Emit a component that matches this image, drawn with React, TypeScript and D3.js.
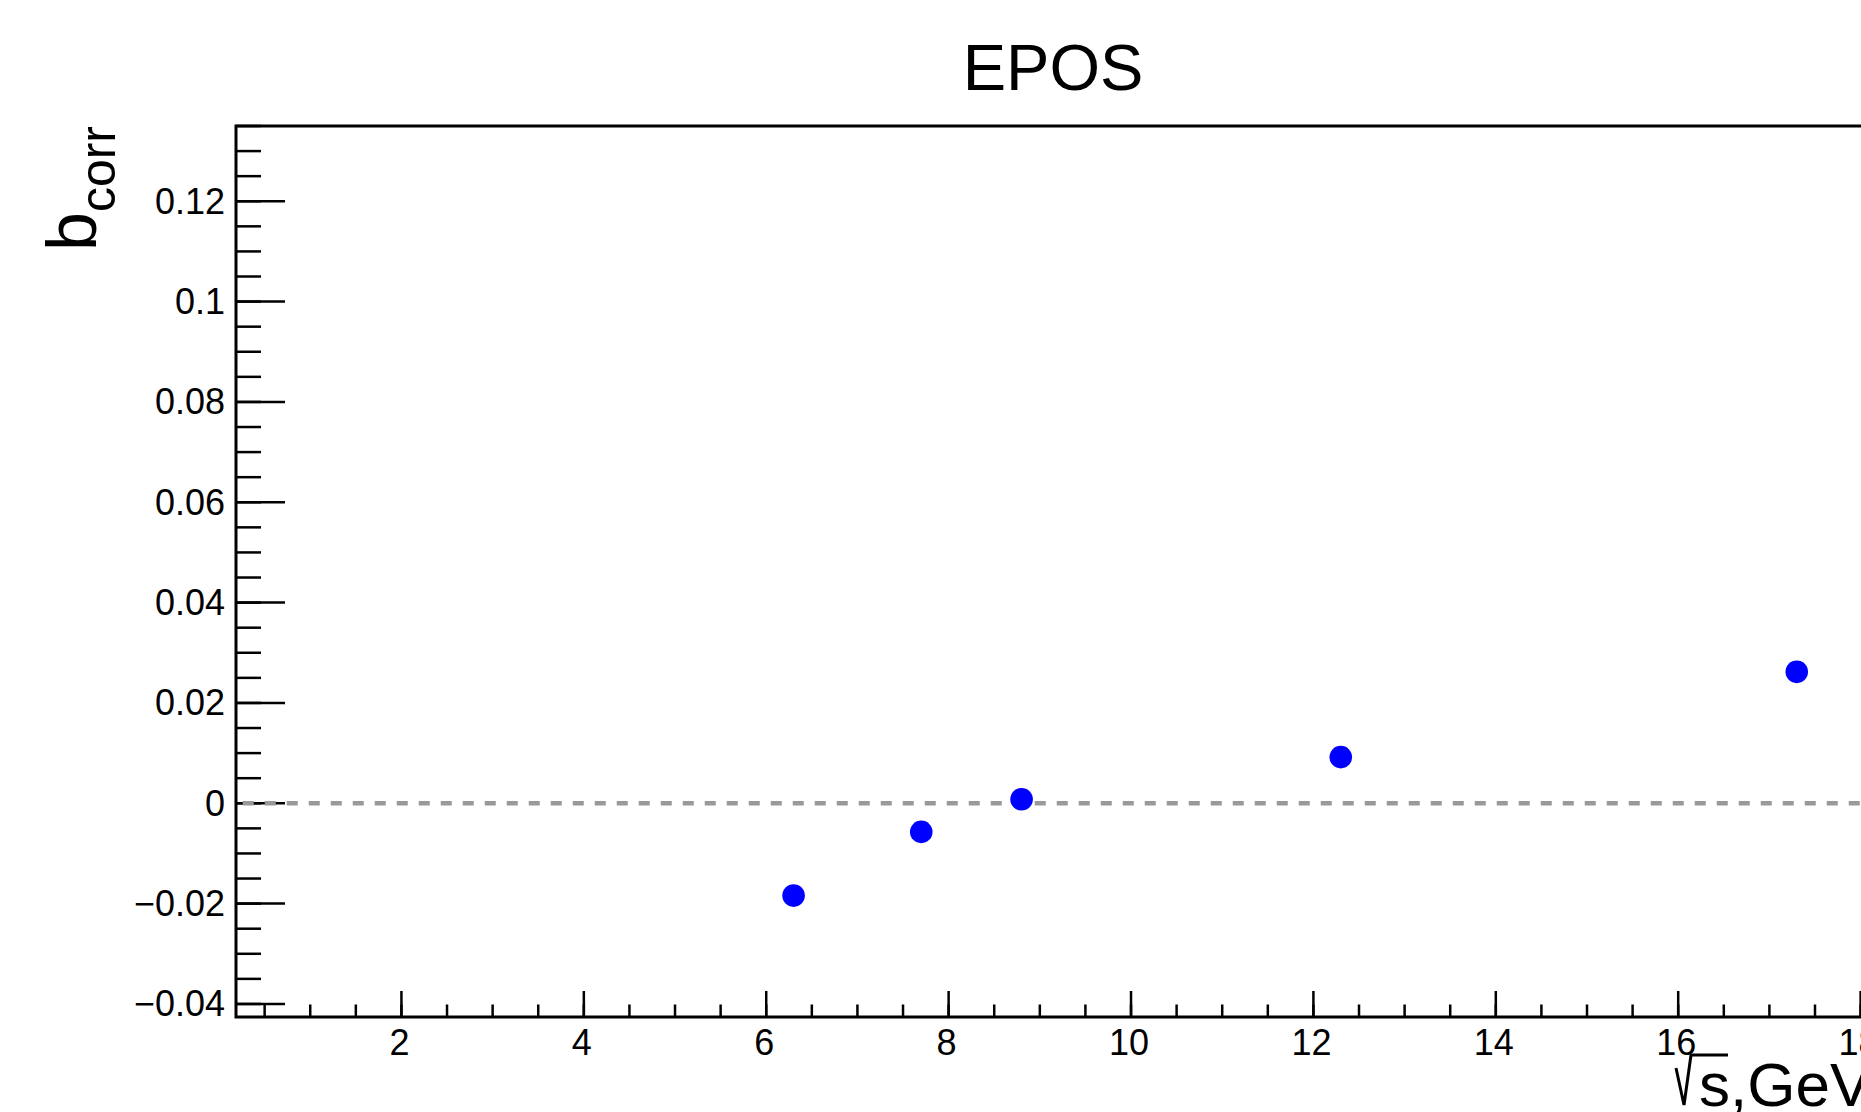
import React, { useEffect, useRef } from "react";
import * as d3 from "d3";

// collision energies (GeV) and b_corr values
const energies = [6.3, 7.7, 8.8, 12.3, 17.3];
const bcorr = [-0.0184, -0.0057, 0.0008, 0.0092, 0.0262];

const xMajorTicks = [2, 4, 6, 8, 10, 12, 14, 16, 18];
const yMajorTicks = [-0.04, -0.02, 0, 0.02, 0.04, 0.06, 0.08, 0.1, 0.12];

const chartTitle = "EPOS";
const zeroLineStart = 0.26;

const W = 1861;
const H = 1112;
const FONT = "'Liberation Sans', Arial, Helvetica, sans-serif";

const App = () => {
  const ref = useRef<SVGSVGElement | null>(null);

  useEffect(() => {
    drawChart();
  }, []);

  const drawChart = () => {
    const svg = d3.select(ref.current);
    svg.selectAll("*").remove();

    const x = d3.scaleLinear().domain([0.186, 18]).range([236, 1860.6]);
    const y = d3.scaleLinear().domain([-0.0426, 0.135]).range([1017, 126]);

    const left = x(0.186);
    const right = x(21); // frame runs past the canvas edge
    const top = y(0.135);
    const bottom = y(-0.0426);

    // title
    svg
      .append("text")
      .attr("x", 1053)
      .attr("y", 90)
      .attr("text-anchor", "middle")
      .style("font-family", FONT)
      .style("font-size", "65px")
      .text(chartTitle);

    // minor ticks, y every 0.005, x every 0.5
    const yMinor = d3.range(-0.04, 0.1351, 0.005).filter((v) => v <= 0.135);
    svg
      .append("g")
      .selectAll("line")
      .data(yMinor)
      .enter()
      .append("line")
      .attr("x1", left)
      .attr("x2", left + 25)
      .attr("y1", (d) => y(d))
      .attr("y2", (d) => y(d))
      .attr("stroke", "#000")
      .attr("stroke-width", 2.5);

    svg
      .append("g")
      .selectAll("line")
      .data(yMajorTicks)
      .enter()
      .append("line")
      .attr("x1", left)
      .attr("x2", left + 49)
      .attr("y1", (d) => y(d))
      .attr("y2", (d) => y(d))
      .attr("stroke", "#000")
      .attr("stroke-width", 2.5);

    const xMinor = d3.range(0.5, 18.01, 0.5);
    svg
      .append("g")
      .selectAll("line")
      .data(xMinor)
      .enter()
      .append("line")
      .attr("x1", (d) => x(d))
      .attr("x2", (d) => x(d))
      .attr("y1", bottom)
      .attr("y2", bottom - 12.5)
      .attr("stroke", "#000")
      .attr("stroke-width", 2.5);

    svg
      .append("g")
      .selectAll("line")
      .data(xMajorTicks)
      .enter()
      .append("line")
      .attr("x1", (d) => x(d))
      .attr("x2", (d) => x(d))
      .attr("y1", bottom)
      .attr("y2", bottom - 26)
      .attr("stroke", "#000")
      .attr("stroke-width", 2.5);

    // frame
    svg
      .append("path")
      .attr("d", `M${right},${top}H${left}V${bottom}H${right}`)
      .attr("fill", "none")
      .attr("stroke", "#000")
      .attr("stroke-width", 3);

    // tick labels
    const fmtY = (v: number) => {
      const s = v === 0 ? "0" : d3.format("~g")(Math.abs(v));
      return v < 0 ? "\u2212" + s : s;
    };
    svg
      .append("g")
      .selectAll("text")
      .data(yMajorTicks)
      .enter()
      .append("text")
      .attr("x", left - 11)
      .attr("y", (d) => y(d) + 12.5)
      .attr("text-anchor", "end")
      .style("font-family", FONT)
      .style("font-size", "36px")
      .text((d) => fmtY(d));

    svg
      .append("g")
      .selectAll("text")
      .data(xMajorTicks)
      .enter()
      .append("text")
      .attr("x", (d) => x(d) - 2)
      .attr("y", bottom + 38)
      .attr("text-anchor", "middle")
      .style("font-family", FONT)
      .style("font-size", "36px")
      .text((d) => String(d));

    // y title b_corr
    const yt = svg
      .append("text")
      .attr("transform", `translate(96,${top}) rotate(-90)`)
      .attr("text-anchor", "end")
      .style("font-family", FONT)
      .style("font-size", "70px")
      .text("b");
    yt.append("tspan").attr("dy", 19).style("font-size", "50px").text("corr");

    // x title sqrt(s),GeV
    svg
      .append("path")
      .attr("d", "M1676,1068 L1684,1105 L1691,1055 L1728,1055")
      .attr("fill", "none")
      .attr("stroke", "#000")
      .attr("stroke-width", 3);
    svg
      .append("text")
      .attr("x", 1699)
      .attr("y", 1106)
      .style("font-family", FONT)
      .style("font-size", "62px")
      .text("s,GeV");

    // zero line
    svg
      .append("line")
      .attr("x1", x(zeroLineStart))
      .attr("x2", right)
      .attr("y1", y(0))
      .attr("y2", y(0))
      .attr("stroke", "#999999")
      .attr("stroke-width", 4.5)
      .attr("stroke-dasharray", "11 11");

    // points
    const pts = energies.map((e, i) => ({ e, b: bcorr[i] }));
    svg
      .append("g")
      .selectAll("circle")
      .data(pts)
      .enter()
      .append("circle")
      .attr("cx", (d) => x(d.e))
      .attr("cy", (d) => y(d.b))
      .attr("r", 11.3)
      .attr("fill", "#0000ff");
  };

  return (
    <svg
      ref={ref}
      width={W}
      height={H}
      style={{ position: "absolute", left: 0, top: 0, background: "#fff" }}
    />
  );
};

export default App;
